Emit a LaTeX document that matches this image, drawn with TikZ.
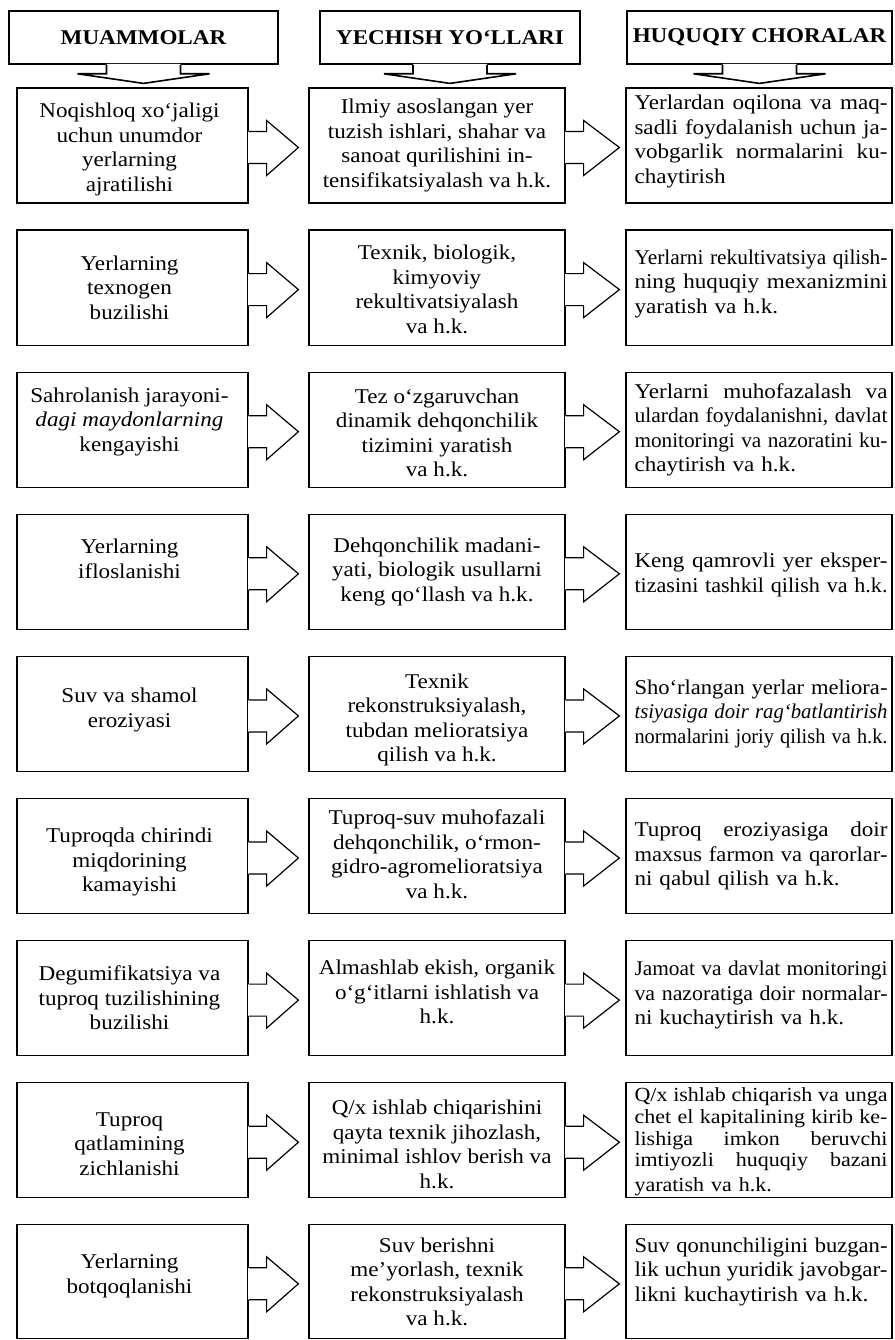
\documentclass[tikz,border=0pt]{standalone}
\usepackage{fontspec}
\setmainfont{Liberation Serif}[FakeStretch=1.1]
\usepackage{graphicx}
\usetikzlibrary{calc}
\setlength\parindent{0pt}
\newcommand\jl[1]{\sbox0{\spaceskip=0pt\xspaceskip=0pt\relax#1}\ifdim\wd0>\linewidth\resizebox{\linewidth}{\height}{#1}\else\makebox[\linewidth][s]{\spaceskip=0pt\xspaceskip=0pt\relax#1}\fi}
\tikzset{
  box/.style={draw, line width=1.2pt, inner sep=0pt, fill=white},
  hdr/.style={draw, line width=1.6pt, inner sep=0pt, fill=white, font=\fontsize{21}{25}\selectfont\bfseries},
  ctext/.style={align=center, inner sep=0pt, font=\fontsize{21}{24.5}\selectfont},
  jtext/.style={align=left, text width=253pt, inner sep=0pt, font=\fontsize{21}{24.5}\selectfont},
  arr/.style={line width=1.2pt, line join=miter},
  harr/.style={line width=1.6pt, line join=miter},
}
\newcommand\barrow[3]{%
  \fill[white] ($(#1.east)+(-0.6,-14)$) -- ($(#1.east)+(18,-14)$) -- ($(#1.east)+(18,-25)$) -- ($(#2.west)+(-#3,2)$) -- ($(#1.east)+(18,30)$) -- ($(#1.east)+(18,18)$) -- ($(#1.east)+(-0.6,18)$) -- cycle;
  \draw[arr] ($(#1.east)+(0,-14)$) -- ($(#1.east)+(18,-14)$) -- ($(#1.east)+(18,-25)$) -- ($(#2.west)+(-#3,2)$) -- ($(#1.east)+(18,30)$) -- ($(#1.east)+(18,18)$) -- ($(#1.east)+(0,18)$);
}
\newcommand\harrow[2]{%
  \coordinate (#1tip) at ($(#1.south |- #2.north)+(0,-4)$);
  \fill[white] ($(#1.south)+(-37,-0.9)$) -- ($(#1.south)+(-37,9)$) -- ($(#1.south)+(-66,9)$) -- (#1tip) -- ($(#1.south)+(66,9)$) -- ($(#1.south)+(37,9)$) -- ($(#1.south)+(37,-0.9)$) -- cycle;
  \draw[harr] ($(#1.south)+(-37,0)$) -- ($(#1.south)+(-37,9)$) -- ($(#1.south)+(-66,9)$) -- (#1tip) -- ($(#1.south)+(66,9)$) -- ($(#1.south)+(37,9)$) -- ($(#1.south)+(37,0)$);
}
\newcommand\mkrow[8]{%
  \pgfmathsetmacro\rc{88+142.1*(#1-1)+#2/2}
  \node[box, minimum width=231pt, minimum height=#2pt] (a#1) at (132.5,\rc) {};
  \node[box, minimum width=256pt, minimum height=#2pt] (b#1) at (437,\rc) {};
  \node[box, minimum width=266pt, minimum height=#2pt] (c#1) at (759,\rc) {};
  \node[ctext] (a#1t) at ([xshift=-3pt,yshift=#6pt]a#1.center) {#3};
  \node[ctext] (b#1t) at ([yshift=#7pt]b#1.center) {#4};
  \node[jtext] (c#1t) at ([xshift=2pt,yshift=#8pt]c#1.center) {#5};
  \barrow{a#1}{b#1}{10}
  \barrow{b#1}{c#1}{6}
}
\begin{document}
\begin{tikzpicture}[x=1pt,y=-1pt]
\useasboundingbox (0,0) rectangle (894,1340);
\fill[white] (0,0) rectangle (894,1340);

\mkrow{1}{115}{Noqishloq xo‘jaligi\\uchun unumdor\\yerlarning\\ajratilishi}
 {Ilmiy asoslangan yer\\tuzish ishlari, shahar va\\sanoat qurilishini in-\\tensifikatsiyalash va h.k.}
 {\jl{Yerlardan oqilona va maq-}\\\jl{sadli foydalanish uchun ja-}\\\jl{vobgarlik normalarini ku-}\\chaytirish}
 {-4}{0}{4}
\mkrow{2}{115}{Yerlarning\\texnogen\\buzilishi}
 {Texnik, biologik,\\kimyoviy\\rekultivatsiyalash\\va h.k.}
 {\jl{Yerlarni rekultivatsiya qilish-}\\\jl{ning huquqiy mexanizmini}\\yaratish va h.k.}
 {0}{-2}{4}
\mkrow{3}{115}{Sahrolanish jarayoni-\\\textit{dagi maydonlarning}\\kengayishi}
 {Tez o‘zgaruvchan\\dinamik dehqonchilik\\tizimini yaratish\\va h.k.}
 {\jl{Yerlarni muhofazalash va}\\\jl{ulardan foydalanishni, davlat}\\\jl{monitoringi va nazoratini ku-}\\chaytirish va h.k.}
 {8}{-3}{0}
\mkrow{4}{115}{Yerlarning\\ifloslanishi}
 {Dehqonchilik madani-\\yati, biologik usullarni\\keng qo‘llash va h.k.}
 {\jl{Keng qamrovli yer eksper-}\\\jl{tizasini tashkil qilish va h.k.}}
 {13}{0}{-3}
\mkrow{5}{115}{Suv va shamol\\eroziyasi}
 {Texnik\\rekonstruksiyalash,\\tubdan melioratsiya\\qilish va h.k.}
 {\jl{Sho‘rlangan yerlar meliora-}\\\jl{\textit{tsiyasiga doir rag‘batlantirish}}\\\jl{normalarini joriy qilish va h.k.}}
 {4}{-6}{0}
\mkrow{6}{115}{Tuproqda chirindi\\miqdorining\\kamayishi}
 {Tuproq-suv muhofazali\\dehqonchilik, o‘rmon-\\gidro-agromelioratsiya\\va h.k.}
 {\jl{Tuproq eroziyasiga doir}\\\jl{maxsus farmon va qarorlar-}\\ni qabul qilish va h.k.}
 {-6}{2}{0}
\mkrow{7}{115}{Degumifikatsiya va\\tuproq tuzilishining\\buzilishi}
 {Almashlab ekish, organik\\o‘g‘itlarni ishlatish va\\h.k.}
 {\jl{Jamoat va davlat monitoringi}\\\jl{va nazoratiga doir normalar-}\\ni kuchaytirish va h.k.}
 {0}{6}{3}
\mkrow{8}{115}{Tuproq\\qatlamining\\zichlanishi}
 {Q/x ishlab chiqarishini\\qayta texnik jihozlash,\\minimal ishlov berish va\\h.k.}
 {\fontsize{20}{21.8}\selectfont\jl{Q/x ishlab chiqarish va unga}\\\jl{chet el kapitalining kirib ke-}\\\jl{lishiga imkon beruvchi}\\\jl{imtiyozli huquqiy bazani}\\yaratish va h.k.}
 {-4}{-4}{-1.5}
\mkrow{9}{114}{Yerlarning\\botqoqlanishi}
 {Suv berishni\\me’yorlash, texnik\\rekonstruksiyalash\\va h.k.}
 {\jl{Suv qonunchiligini buzgan-}\\\jl{lik uchun yuridik javobgar-}\\likni kuchaytirish va h.k.}
 {6}{0}{10}

\node[hdr, minimum width=269pt, minimum height=53pt] (h1) at (143.5,37.5) {MUAMMOLAR};
\node[hdr, minimum width=260pt, minimum height=53pt] (h2) at (450,37.5) {YECHISH YO‘LLARI};
\node[hdr, minimum width=265pt, minimum height=53pt] (h3) at (759.5,37.5) {HUQUQIY CHORALAR};
\harrow{h1}{a1}
\harrow{h2}{b1}
\harrow{h3}{c1}
\end{tikzpicture}
\end{document}
